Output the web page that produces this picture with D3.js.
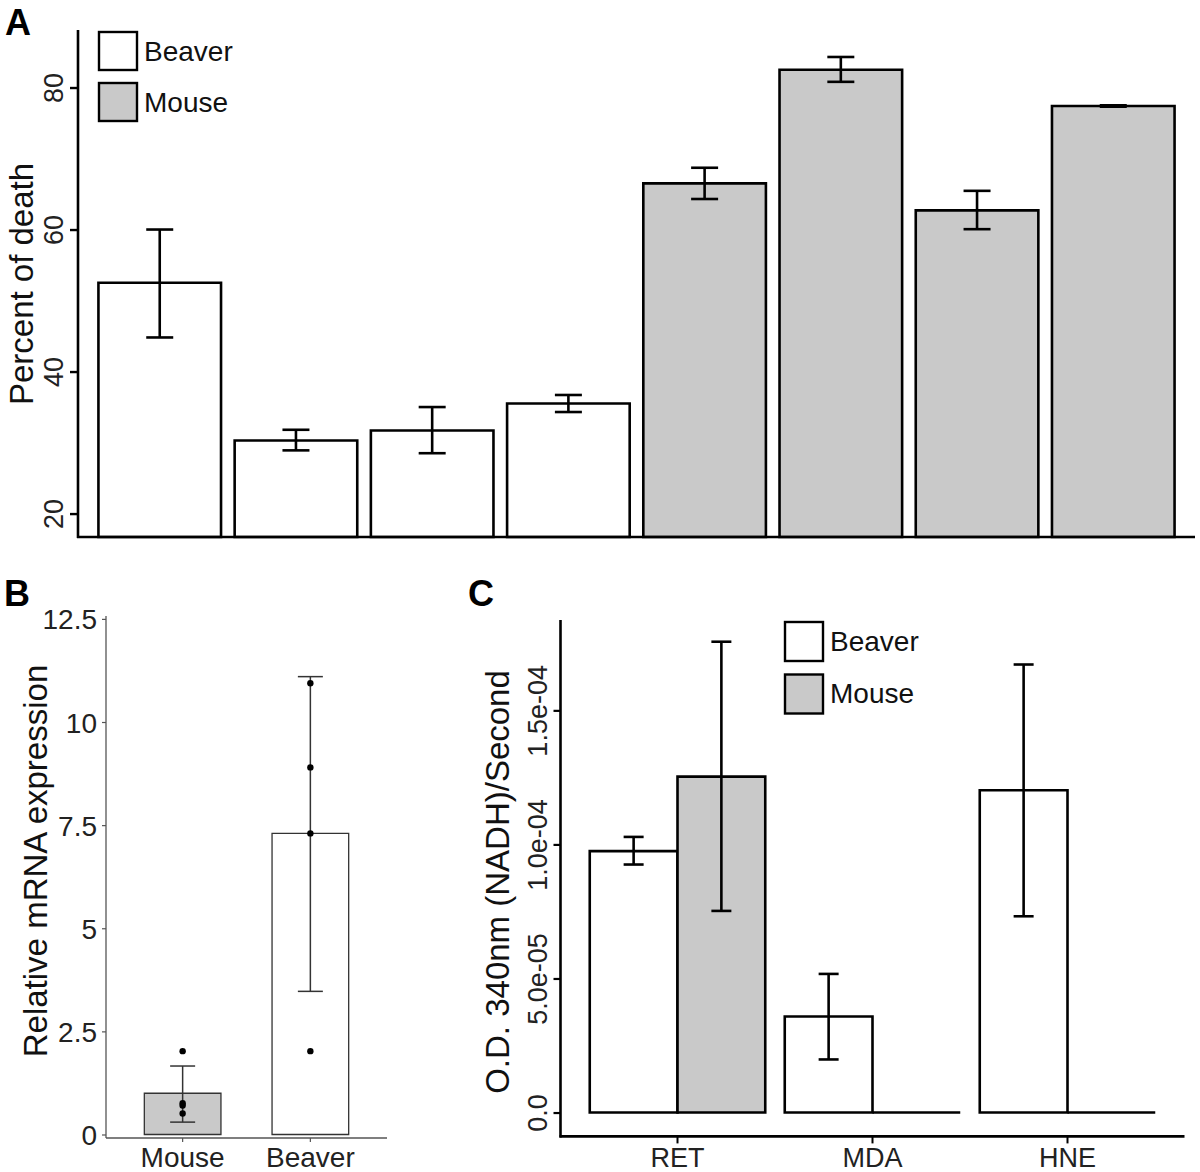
<!DOCTYPE html>
<html>
<head>
<meta charset="utf-8">
<script src="https://cdn.jsdelivr.net/npm/d3@7"></script>
<style>
  html, body { margin: 0; padding: 0; background: #fff; }
  svg { display: block; font-family: "Liberation Sans", Arial, Helvetica, sans-serif; }
</style>
</head>
<body>
<svg id="chart" width="1200" height="1172"></svg>
<script>
// ---------------- DATA ----------------
// Panel A
const aCategories = ["Beaver 1", "Beaver 2", "Beaver 3", "Beaver 4", "Mouse 1", "Mouse 2", "Mouse 3", "Mouse 4"];
const aSpecies = ["Beaver", "Beaver", "Beaver", "Beaver", "Mouse", "Mouse", "Mouse", "Mouse"];
const aMeans = [52.5, 30.3, 31.7, 35.5, 66.5, 82.5, 62.7, 77.4];
const aLower = [44.8, 28.9, 28.5, 34.3, 64.3, 80.8, 60.05, 77.3];
const aUpper = [60.0, 31.8, 35.0, 36.7, 68.7, 84.3, 65.45, 77.5];
const aTicks = [20, 40, 60, 80];

// Panel B
const bCategories = ["Mouse", "Beaver"];
const bMeans = [1.0, 7.3];
const bLower = [0.30, 3.47];
const bUpper = [1.66, 11.1];
const bPointsMouse = [2.02, 0.76, 0.70, 0.51];
const bPointsBeaver = [10.94, 8.9, 7.3, 2.02];
const bTicks = [0, 2.5, 5, 7.5, 10, 12.5];

// Panel C
const cGroups = ["RET", "MDA", "HNE"];
const cSpecies = ["Beaver", "Mouse"];
const cBeaverMeans = [9.75e-5, 3.58e-5, 1.202e-4];
const cBeaverLower = [9.25e-5, 1.98e-5, 7.32e-5];
const cBeaverUpper = [1.028e-4, 5.17e-5, 1.671e-4];
const cMouseMeans = [1.253e-4, 0, 0];
const cMouseLower = [7.52e-5, null, null];
const cMouseUpper = [1.756e-4, null, null];
const cTicks = [0, 5e-5, 1e-4, 1.5e-4];

const fillOf = { Beaver: "#ffffff", Mouse: "#c9c9c9" };

// ---------------- DRAW ----------------
const svg = d3.select("#chart");

function barPath(x0, x1, yBase, yTop) {
  return `M${x0},${yBase}V${yTop}H${x1}V${yBase}Z`;
}

// ===== Panel A =====
{
  const x = d3.scaleBand().domain(aCategories).range([78, 1195]).paddingInner(0.1).paddingOuter(0.15);
  const y = d3.scaleLinear().domain([16.7, 88.1]).range([537, 30]);
  const g = svg.append("g");
  const rows = aCategories.map((c, i) => ({ c, s: aSpecies[i], m: aMeans[i], lo: aLower[i], hi: aUpper[i] }));

  g.selectAll("path.bar").data(rows).join("path").attr("class", "bar")
    .attr("d", d => barPath(x(d.c), x(d.c) + x.bandwidth(), y.range()[0], y(d.m)))
    .attr("fill", d => fillOf[d.s]).attr("stroke", "#000").attr("stroke-width", 2.6);

  const cap = 13.5;
  const eb = g.selectAll("g.eb").data(rows).join("g").attr("class", "eb")
    .attr("stroke", "#000").attr("stroke-width", 2.6);
  eb.append("line").attr("x1", d => x(d.c) + x.bandwidth() / 2).attr("x2", d => x(d.c) + x.bandwidth() / 2)
    .attr("y1", d => y(d.lo)).attr("y2", d => y(d.hi));
  eb.append("line").attr("x1", d => x(d.c) + x.bandwidth() / 2 - cap).attr("x2", d => x(d.c) + x.bandwidth() / 2 + cap)
    .attr("y1", d => y(d.hi)).attr("y2", d => y(d.hi));
  eb.append("line").attr("x1", d => x(d.c) + x.bandwidth() / 2 - cap).attr("x2", d => x(d.c) + x.bandwidth() / 2 + cap)
    .attr("y1", d => y(d.lo)).attr("y2", d => y(d.lo));

  // axes
  const yAx = g.append("g").attr("transform", "translate(78,0)")
    .call(d3.axisLeft(y).tickValues(aTicks).tickSize(8).tickFormat(d3.format("d")));
  yAx.select(".domain").remove();
  yAx.selectAll(".tick line").attr("stroke", "#000").attr("stroke-width", 2.4);
  yAx.selectAll(".tick text").attr("x", null).attr("dy", null)
    .attr("text-anchor", "middle").attr("transform", "translate(-15,0) rotate(-90)")
    .attr("font-size", 27).attr("fill", "#222");
  g.append("line").attr("x1", 78).attr("x2", 78).attr("y1", 30).attr("y2", 538).attr("stroke", "#000").attr("stroke-width", 2.6);
  g.append("line").attr("x1", 77).attr("x2", 1195).attr("y1", 537).attr("y2", 537).attr("stroke", "#000").attr("stroke-width", 2.6);

  g.append("text").attr("transform", "translate(33,284) rotate(-90)").attr("text-anchor", "middle")
    .attr("font-size", 33).attr("fill", "#111").text("Percent of death");

  // legend
  const leg = g.append("g");
  ["Beaver", "Mouse"].forEach((s, i) => {
    leg.append("rect").attr("x", 99).attr("y", 32 + i * 51).attr("width", 38).attr("height", 38)
      .attr("fill", fillOf[s]).attr("stroke", "#000").attr("stroke-width", 2.4);
    leg.append("text").attr("x", 144).attr("y", 51 + i * 51).attr("dy", "0.35em")
      .attr("font-size", 28).attr("fill", "#111").text(s);
  });

  svg.append("text").attr("x", 5).attr("y", 35).attr("font-size", 36).attr("font-weight", "bold").text("A");
}

// ===== Panel B =====
{
  const x = d3.scaleBand().domain(bCategories).range([106, 387]).paddingInner(0.4).paddingOuter(0.3);
  const y = d3.scaleLinear().domain([-0.085, 12.57]).range([1138, 616]);
  const g = svg.append("g");
  const rows = bCategories.map((c, i) => ({ c, m: bMeans[i], lo: bLower[i], hi: bUpper[i] }));

  g.selectAll("path.bar").data(rows).join("path").attr("class", "bar")
    .attr("d", d => barPath(x(d.c), x(d.c) + x.bandwidth(), y(0), y(d.m)))
    .attr("fill", d => fillOf[d.c]).attr("stroke", "#333").attr("stroke-width", 1.3);

  const cap = 12.5;
  const eb = g.selectAll("g.eb").data(rows).join("g").attr("class", "eb")
    .attr("stroke", "#333").attr("stroke-width", 1.5);
  const cx = d => x(d.c) + x.bandwidth() / 2;
  eb.append("line").attr("x1", cx).attr("x2", cx).attr("y1", d => y(d.lo)).attr("y2", d => y(d.hi));
  eb.append("line").attr("x1", d => cx(d) - cap).attr("x2", d => cx(d) + cap).attr("y1", d => y(d.hi)).attr("y2", d => y(d.hi));
  eb.append("line").attr("x1", d => cx(d) - cap).attr("x2", d => cx(d) + cap).attr("y1", d => y(d.lo)).attr("y2", d => y(d.lo));

  const pts = [
    ...bPointsMouse.map(v => ({ c: "Mouse", v })),
    ...bPointsBeaver.map(v => ({ c: "Beaver", v }))
  ];
  g.selectAll("circle.pt").data(pts).join("circle").attr("class", "pt")
    .attr("cx", d => x(d.c) + x.bandwidth() / 2).attr("cy", d => y(d.v)).attr("r", 3.2).attr("fill", "#000");

  const yAx = g.append("g").attr("transform", "translate(106,0)")
    .call(d3.axisLeft(y).tickValues(bTicks).tickSize(4).tickFormat(d => String(d)));
  yAx.select(".domain").remove();
  yAx.selectAll(".tick line").attr("stroke", "#555").attr("stroke-width", 1.2);
  yAx.selectAll(".tick text").attr("x", -9).attr("font-size", 28).attr("fill", "#222").attr("dy", "0.36em");
  g.append("line").attr("x1", 106).attr("x2", 106).attr("y1", 616).attr("y2", 1138).attr("stroke", "#555").attr("stroke-width", 1.3);
  g.append("line").attr("x1", 106).attr("x2", 387).attr("y1", 1138).attr("y2", 1138).attr("stroke", "#555").attr("stroke-width", 1.3);

  const xAx = g.append("g").attr("transform", "translate(0,1138)")
    .call(d3.axisBottom(x).tickSize(4));
  xAx.select(".domain").remove();
  xAx.selectAll(".tick line").attr("stroke", "#555").attr("stroke-width", 1.2);
  xAx.selectAll(".tick text").attr("y", 29).attr("dy", null).attr("font-size", 28).attr("fill", "#222");

  g.append("text").attr("transform", "translate(47,861) rotate(-90)").attr("text-anchor", "middle")
    .attr("font-size", 33).attr("fill", "#111").text("Relative mRNA expression");

  svg.append("text").attr("x", 4).attr("y", 606).attr("font-size", 36).attr("font-weight", "bold").text("B");
}

// ===== Panel C =====
{
  const x0 = d3.scaleBand().domain(cGroups).range([560.5, 1184.5]).paddingInner(0.1).paddingOuter(0.15);
  const x1 = d3.scaleBand().domain(cSpecies).range([0, x0.bandwidth()]);
  const y = d3.scaleLinear().domain([-0.89e-5, 1.837e-4]).range([1136.4, 620]);
  const g = svg.append("g");

  const rows = [];
  cGroups.forEach((grp, i) => {
    rows.push({ grp, s: "Beaver", m: cBeaverMeans[i], lo: cBeaverLower[i], hi: cBeaverUpper[i] });
    rows.push({ grp, s: "Mouse", m: cMouseMeans[i], lo: cMouseLower[i], hi: cMouseUpper[i] });
  });
  const bx = d => x0(d.grp) + x1(d.s);

  g.selectAll("path.bar").data(rows).join("path").attr("class", "bar")
    .attr("d", d => barPath(bx(d), bx(d) + x1.bandwidth(), y(0), y(d.m)))
    .attr("fill", d => fillOf[d.s]).attr("stroke", "#000").attr("stroke-width", 2.6);

  const cap = 10;
  const withErr = rows.filter(d => d.lo !== null);
  const eb = g.selectAll("g.eb").data(withErr).join("g").attr("class", "eb")
    .attr("stroke", "#000").attr("stroke-width", 2.6);
  const cx = d => bx(d) + x1.bandwidth() / 2;
  eb.append("line").attr("x1", cx).attr("x2", cx).attr("y1", d => y(d.lo)).attr("y2", d => y(d.hi));
  eb.append("line").attr("x1", d => cx(d) - cap).attr("x2", d => cx(d) + cap).attr("y1", d => y(d.hi)).attr("y2", d => y(d.hi));
  eb.append("line").attr("x1", d => cx(d) - cap).attr("x2", d => cx(d) + cap).attr("y1", d => y(d.lo)).attr("y2", d => y(d.lo));

  const fmt = v => {
    if (v === 0) return "0.0";
    const [mant, ex] = v.toExponential(1).split("e");
    const sign = ex[0] === "-" ? "-" : "+";
    const digits = ex.replace(/[+-]/, "").padStart(2, "0");
    return `${mant}e${sign}${digits}`;
  };
  const yAx = g.append("g").attr("transform", "translate(560.5,0)")
    .call(d3.axisLeft(y).tickValues(cTicks).tickSize(7).tickFormat(fmt));
  yAx.select(".domain").remove();
  yAx.selectAll(".tick line").attr("stroke", "#000").attr("stroke-width", 2.2);
  yAx.selectAll(".tick text").attr("x", null).attr("dy", null)
    .attr("text-anchor", "middle").attr("transform", "translate(-14,0) rotate(-90)")
    .attr("font-size", 27).attr("fill", "#222");
  g.append("line").attr("x1", 560.5).attr("x2", 560.5).attr("y1", 620).attr("y2", 1137.5).attr("stroke", "#000").attr("stroke-width", 2.6);
  g.append("line").attr("x1", 559.5).attr("x2", 1184.5).attr("y1", 1136.4).attr("y2", 1136.4).attr("stroke", "#000").attr("stroke-width", 2.6);

  const xAx = g.append("g").attr("transform", "translate(0,1136.4)")
    .call(d3.axisBottom(x0).tickSize(7));
  xAx.select(".domain").remove();
  xAx.selectAll(".tick line").attr("stroke", "#000").attr("stroke-width", 2);
  xAx.selectAll(".tick text").attr("y", 30.5).attr("dy", null).attr("font-size", 27).attr("fill", "#222");

  g.append("text").attr("transform", "translate(509,882) rotate(-90)").attr("text-anchor", "middle")
    .attr("font-size", 33).attr("fill", "#111").text("O.D. 340nm (NADH)/Second");

  const leg = g.append("g");
  ["Beaver", "Mouse"].forEach((s, i) => {
    leg.append("rect").attr("x", 785).attr("y", 622 + i * 52.5).attr("width", 38).attr("height", 39)
      .attr("fill", fillOf[s]).attr("stroke", "#000").attr("stroke-width", 2.4);
    leg.append("text").attr("x", 830).attr("y", 641 + i * 52.5).attr("dy", "0.35em")
      .attr("font-size", 28).attr("fill", "#111").text(s);
  });

  svg.append("text").attr("x", 468).attr("y", 606).attr("font-size", 36).attr("font-weight", "bold").text("C");
}
</script>
</body>
</html>
